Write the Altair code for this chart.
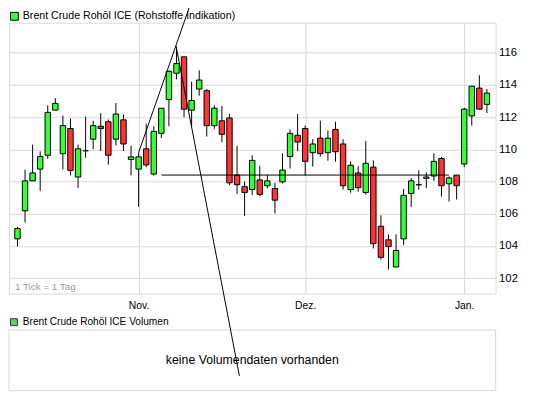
import altair as alt
import pandas as pd

# ---- data (daily candles, 63 trading days) ----
opens = [104.44, 106.18, 108.04, 108.77, 109.63, 112.43, 109.73, 111.29, 108.28, 109.91,
         110.63, 111.43, 111.71, 110.63, 111.83, 109.37, 108.77, 110.03, 108.46, 110.99,
         113.09, 114.72, 115.74, 112.43, 113.74, 113.64, 111.47, 111.77, 111.95, 108.40,
         107.68, 107.50, 108.10, 107.74, 107.56, 107.98, 109.55, 110.87, 111.29, 109.79,
         110.69, 109.79, 111.23, 110.33, 107.50, 108.53, 107.32, 108.89, 105.22, 104.38,
         102.69, 104.44, 107.26, 107.80, 108.20, 108.34, 109.43, 107.86, 108.40, 109.09,
         112.07, 113.80, 112.79]
highs = [105.18, 108.73, 110.29, 109.87, 112.73, 113.17, 112.09, 111.91, 110.29, 112.03,
         111.77, 112.25, 111.85, 112.87, 112.15, 110.23, 109.79, 111.59, 111.43, 112.55,
         114.90, 116.35, 115.76, 114.20, 114.90, 113.74, 112.73, 112.69, 112.19, 110.23,
         108.00, 109.63, 108.97, 108.40, 107.92, 109.75, 111.23, 112.19, 111.47, 110.63,
         111.77, 111.17, 111.71, 110.63, 109.25, 108.95, 110.51, 109.31, 105.90, 104.72,
         104.72, 107.54, 108.22, 108.69, 108.57, 109.75, 109.53, 108.32, 108.40, 112.57,
         113.92, 114.60, 113.74]
lows = [103.96, 105.46, 108.04, 107.42, 109.41, 112.43, 108.75, 108.38, 107.60, 109.47,
        110.01, 109.89, 109.05, 110.23, 109.89, 108.38, 106.42, 108.89, 108.38, 110.69,
        111.43, 114.34, 111.99, 111.43, 113.33, 110.79, 111.27, 110.43, 107.78, 107.24,
        105.86, 107.16, 107.08, 107.58, 106.02, 107.88, 108.81, 109.89, 108.37, 108.93,
        109.55, 109.29, 109.23, 107.50, 107.30, 107.38, 107.18, 103.84, 103.15, 102.55,
        102.69, 104.06, 106.42, 107.48, 107.60, 108.04, 107.06, 106.76, 106.88, 108.89,
        111.47, 112.49, 112.25]
closes = [105.08, 108.04, 108.53, 109.55, 112.29, 112.85, 111.47, 108.69, 110.03, 109.91,
          111.47, 111.29, 109.63, 112.19, 110.33, 109.53, 109.53, 109.03, 111.11, 112.55,
          114.84, 115.32, 112.49, 113.03, 114.30, 111.47, 112.55, 110.93, 107.92, 107.80,
          107.32, 109.31, 107.20, 108.04, 106.84, 108.71, 110.99, 110.45, 109.25, 110.33,
          109.73, 110.69, 109.85, 107.74, 109.01, 107.62, 109.13, 104.14, 103.29, 103.96,
          103.72, 107.14, 108.04, 107.80, 108.28, 109.25, 107.74, 108.22, 107.74, 112.49,
          113.92, 112.49, 113.49]

month_ticks = [16, 38, 59]
month_labels = ["Nov.", "Dez.", "Jan."]
y_ticks = [102, 104, 106, 108, 110, 112, 114, 116]

# drawn trend lines (start / end in data coordinates)
line_x1 = [16.0, 20.94, 19.03]
line_y1 = [109.80, 116.42, 108.40]
line_x2 = [23.2, 29.31, 57.0]
line_y2 = [119.5, 95.93, 108.40]

title_main = "Brent Crude Rohöl ICE (Rohstoffe Indikation)"
title_vol = "Brent Crude Rohöl ICE Volumen"
no_vol_text = "keine Volumendaten vorhanden"
tick_note = "1 Tick = 1 Tag"

# ---- layout ----
W, H = 494, 275
XDOM = [-0.47, 62.5]
YDOM = [101.04, 117.86]
FONT = "Liberation Sans"
GRID = "#d9d9d9"
UP, DOWN = "#33ff33", "#ff3333"

df = pd.DataFrame({"i": list(range(len(opens))), "open": opens, "high": highs,
                   "low": lows, "close": closes})
df["dir"] = ["up" if c >= o else "down" for o, c in zip(opens, closes)]
lines = pd.DataFrame({"x": line_x1, "y": line_y1, "x2": line_x2, "y2": line_y2})
one = pd.DataFrame({"k": [0]})

label_expr = " : ".join(
    f"datum.value == {v} ? '{l}'" for v, l in zip(month_ticks[:-1], month_labels[:-1])
) + f" : '{month_labels[-1]}'"

xaxis = alt.Axis(values=month_ticks, labelExpr=label_expr, grid=True, gridColor=GRID,
                 ticks=False, domain=False, labelPadding=7, labelFontSize=10.5,
                 labelFont=FONT, labelColor="black", title=None)
yaxis = alt.Axis(orient="right", values=y_ticks, format="d", grid=True, gridColor=GRID,
                 ticks=False, domain=False, labelPadding=3, labelFontSize=11.5,
                 labelFont=FONT, labelColor="black", title=None)
xs = alt.Scale(domain=XDOM, nice=False, zero=False)
ys = alt.Scale(domain=YDOM, nice=False, zero=False)

base = alt.Chart(df)
wicks = base.mark_rule(color="black", strokeWidth=1).encode(
    x=alt.X("i:Q", scale=xs, axis=xaxis),
    y=alt.Y("low:Q", scale=ys, axis=yaxis),
    y2="high:Q",
)
bodies = base.mark_bar(size=5.5, stroke="black", strokeWidth=1).encode(
    x=alt.X("i:Q", scale=xs, axis=xaxis),
    y=alt.Y("open:Q", scale=ys, axis=yaxis),
    y2="close:Q",
    color=alt.Color("dir:N", scale=alt.Scale(domain=["up", "down"], range=[UP, DOWN]),
                    legend=None),
)

dec = alt.Chart(one)
leg_sq = dec.mark_rect(fill=UP, stroke="black", strokeWidth=1).encode(
    x=alt.value(1.5), x2=alt.value(9.5), y=alt.value(-10.5), y2=alt.value(-2.5))
leg_tx = dec.mark_text(align="left", baseline="middle", fontSize=10.8, font=FONT,
                       color="black").encode(
    x=alt.value(14), y=alt.value(-6.5), text=alt.value(title_main))
note = dec.mark_text(align="left", baseline="middle", fontSize=10, font=FONT,
                     color="#9a9a9a").encode(
    x=alt.value(6), y=alt.value(H - 7), text=alt.value(tick_note))
vleg_sq = dec.mark_rect(fill="#66cc66", stroke="#333333", strokeWidth=1).encode(
    x=alt.value(1.5), x2=alt.value(8.5), y=alt.value(300.5), y2=alt.value(307.5))
vleg_tx = dec.mark_text(align="left", baseline="middle", fontSize=10.3, font=FONT,
                        color="black").encode(
    x=alt.value(14), y=alt.value(304), text=alt.value(title_vol))
vbox = dec.mark_rect(fill="white", stroke=GRID, strokeWidth=1).encode(
    x=alt.value(0), x2=alt.value(W), y=alt.value(312), y2=alt.value(373.5))
vtext = dec.mark_text(align="center", baseline="middle", fontSize=12.5, font=FONT,
                      color="black").encode(
    x=alt.value(W / 2), y=alt.value(342.5), text=alt.value(no_vol_text))

trend = alt.Chart(lines).mark_rule(color="black", strokeWidth=1, clip=False).encode(
    x=alt.X("x:Q", scale=xs, axis=xaxis),
    y=alt.Y("y:Q", scale=ys, axis=yaxis),
    x2="x2:Q",
    y2="y2:Q",
)

chart = alt.layer(
    vbox, vtext, note, wicks, bodies, leg_sq, leg_tx, vleg_sq, vleg_tx, trend
).properties(
    width=W, height=H,
    autosize=alt.AutoSizeParams(type="none"),
    padding={"left": 1, "top": 12, "right": 42, "bottom": 99},
    background="white",
).configure_view(stroke=GRID, strokeWidth=1)

chart.save("out.html", embed_options={"renderer": "svg", "actions": False})
